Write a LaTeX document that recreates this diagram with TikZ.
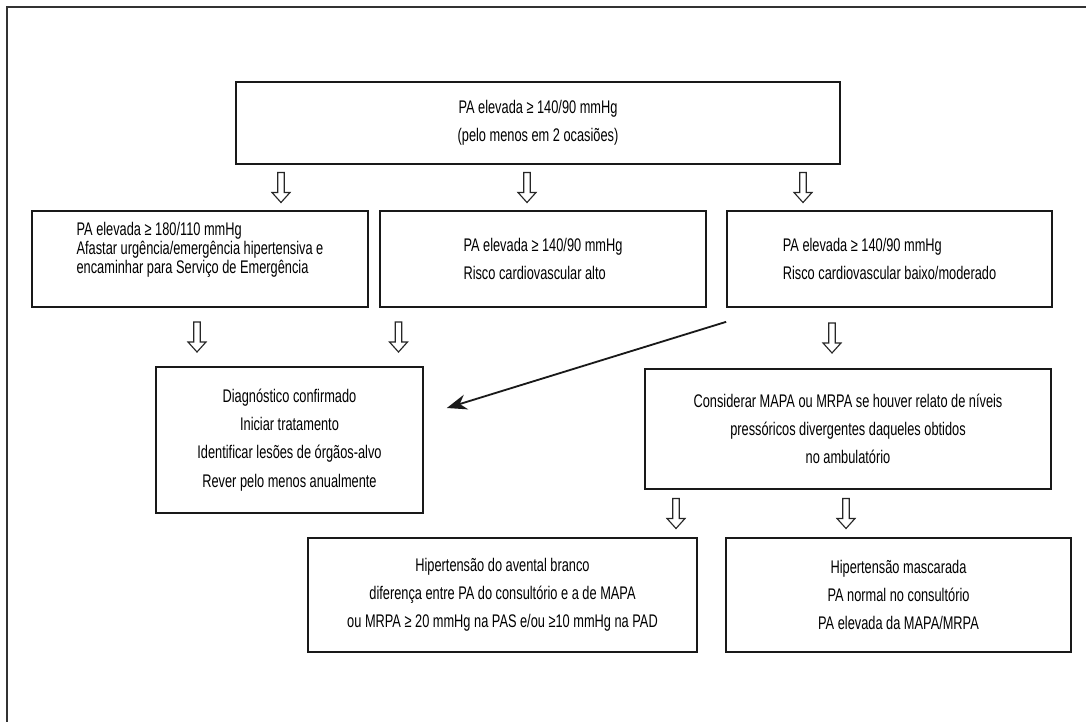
\documentclass[tikz,border=0pt]{standalone}
\usepackage{fontspec}
\setmainfont[FakeStretch=0.7]{Liberation Sans}
\usetikzlibrary{calc}
\usetikzlibrary{arrows.meta}

\tikzset{
	caixa/.style={draw=black!90, line width=1.2pt, inner sep=0pt, align=center, font=\fontsize{13}{20}\selectfont},
	oca/.style={draw=black!85, line width=0.8pt, fill=white,
		to path={let \p1=(\tikztostart), \p2=($(\tikztostart)!0.5!(\tikztotarget)$) in
			(\x1-0.08cm,\y2+0.375cm) -- (\x1-0.08cm,\y2-0.125cm) -- (\x1-0.225cm,\y2-0.125cm) -- (\x1,\y2-0.375cm)
			-- (\x1+0.225cm,\y2-0.125cm) -- (\x1+0.08cm,\y2-0.125cm) -- (\x1+0.08cm,\y2+0.375cm) -- cycle}},
}

\begin{document}
\begin{tikzpicture}
			\useasboundingbox (0,0) rectangle (27.15,-18.05);
			%moldura
			\draw[line width=0.9pt, black!80] (0.175,-18.05) -- (0.175,-0.175) -- (27.15,-0.175);

			\node[caixa, minimum width=15.1cm, minimum height=2.05cm] (topo) at (13.45,-3.075) {PA elevada ≥ 140/90 mmHg\\(pelo menos em 2 ocasiões)};

			\node[caixa, align=left, font=\fontsize{13}{13.5}\selectfont, minimum width=8.4cm, minimum height=2.4cm] (A) at ($(topo)+(-8.45,-3.4)$) {PA elevada ≥ 180/110 mmHg\\Afastar urgência/emergência hipertensiva e\\encaminhar para Serviço de Emergência\\[0.1cm]\mbox{}};
			\node[caixa, align=left, minimum width=8.15cm, minimum height=2.4cm] (B) at ($(topo)+(0.125,-3.4)$) {PA elevada ≥ 140/90 mmHg\\Risco cardiovascular alto};
			\node[caixa, align=left, minimum width=8.125cm, minimum height=2.4cm] (C) at ($(topo)+(8.7875,-3.4)$) {PA elevada ≥ 140/90 mmHg\\Risco cardiovascular baixo/moderado};

			\node[caixa, minimum width=6.675cm, minimum height=3.65cm] (D) at ($(topo)+(-6.2125,-7.925)$) {Diagnóstico confirmado\\Iniciar tratamento\\Identificar lesões de órgãos-alvo\\Rever pelo menos anualmente};
			\node[caixa, minimum width=10.15cm, minimum height=3cm] (E) at ($(topo)+(7.75,-7.65)$) {Considerar MAPA ou MRPA se houver relato de níveis\\pressóricos divergentes daqueles obtidos\\no ambulatório};

			\node[caixa, minimum width=9.725cm, minimum height=2.85cm] (F) at ($(topo)+(-0.8875,-11.8)$) {Hipertensão do avental branco\\diferença entre PA do consultório e a de MAPA\\ou MRPA ≥ 20 mmHg na PAS e/ou ≥10 mmHg na PAD};
			\node[caixa, minimum width=8.625cm, minimum height=2.85cm] (G) at ($(topo)+(9.0125,-11.8)$) {Hipertensão mascarada\\PA normal no consultório\\PA elevada da MAPA/MRPA};

			%setas ocas
			\draw[oca] ($(topo.south)+(-6.425,0)$) to (A.north);
			\draw[oca] ($(topo.south)+(-0.275,0)$) to (B.north);
			\draw[oca] ($(topo.south)+(6.625,0)$) to (C.north);

			\draw[oca] ($(A.south)+(-0.075,0)$) to (D.north);
			\draw[oca] ($(B.south)+(-3.6125,0)$) to (D.north);
			\draw[oca] ($(C.south)+(-1.4375,0)$) to (E.north);

			\draw[oca] ($(E.south)+(-4.3,0)$) to (F.north);
			\draw[oca] ($(E.south)+(-0.05,0)$) to (G.north);

			\draw[line width=1.3pt, black!90, -{Stealth[length=0.5cm, width=0.38cm]}] ($(C.south west)+(0,-0.35)$) -- ($(D.east)+(0.575,0.8)$);

		\end{tikzpicture}
\end{document}
